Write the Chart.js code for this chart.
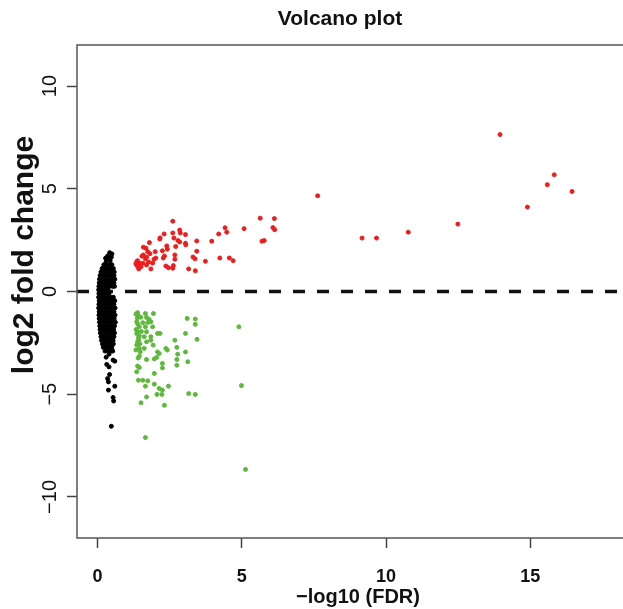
<!DOCTYPE html>
<html>
<head>
<meta charset="utf-8">
<script src="https://cdn.jsdelivr.net/npm/chart.js@4.4.1/dist/chart.umd.min.js"></script>
<style>
  html, body { margin: 0; padding: 0; background: #fff; }
  canvas { display: block; }
</style>
</head>
<body>
<canvas id="volcanoChart" width="623" height="609"></canvas>
<script>
// -log10(FDR), log2FC pairs
const notSig = [
  [0.42,1.89],[0.50,1.83],[0.35,1.73],[0.28,1.62],[0.39,1.62],[0.48,1.67],[0.44,1.50],[0.30,1.45],
  [0.22,1.30],[0.32,1.30],[0.42,1.30],[0.50,1.30],
  [0.16,1.12],[0.27,1.12],[0.37,1.12],[0.47,1.12],[0.55,1.12],
  [0.12,0.95],[0.22,0.95],[0.32,0.95],[0.42,0.95],[0.52,0.95],[0.58,0.95],
  [0.09,0.78],[0.18,0.78],[0.28,0.78],[0.38,0.78],[0.48,0.78],[0.57,0.78],
  [0.07,0.60],[0.14,0.60],[0.24,0.60],[0.34,0.60],[0.44,0.60],[0.54,0.60],[0.60,0.60],
  [0.06,0.42],[0.18,0.42],[0.28,0.42],[0.38,0.42],[0.48,0.42],[0.57,0.42],
  [0.05,0.25],[0.13,0.25],[0.23,0.25],[0.33,0.25],[0.43,0.25],[0.53,0.25],[0.59,0.25],
  [0.04,0.08],[0.16,0.08],[0.26,0.08],[0.36,0.08],
  [0.05,-0.10],[0.12,-0.10],[0.22,-0.10],[0.32,-0.10],[0.40,-0.10],
  [0.04,-0.28],[0.16,-0.28],[0.26,-0.28],[0.36,-0.28],[0.46,-0.28],[0.55,-0.28],
  [0.06,-0.45],[0.12,-0.45],[0.22,-0.45],[0.32,-0.45],[0.42,-0.45],[0.52,-0.45],[0.60,-0.45],
  [0.05,-0.62],[0.17,-0.62],[0.27,-0.62],[0.37,-0.62],[0.47,-0.62],[0.57,-0.62],
  [0.04,-0.80],[0.12,-0.80],[0.22,-0.80],[0.32,-0.80],[0.42,-0.80],[0.52,-0.80],[0.61,-0.80],
  [0.06,-0.98],[0.17,-0.98],[0.27,-0.98],[0.37,-0.98],[0.47,-0.98],[0.57,-0.98],
  [0.05,-1.15],[0.13,-1.15],[0.23,-1.15],[0.33,-1.15],[0.43,-1.15],[0.53,-1.15],[0.61,-1.15],
  [0.06,-1.32],[0.18,-1.32],[0.28,-1.32],[0.38,-1.32],[0.48,-1.32],[0.58,-1.32],
  [0.07,-1.50],[0.14,-1.50],[0.24,-1.50],[0.34,-1.50],[0.44,-1.50],[0.54,-1.50],[0.62,-1.50],
  [0.08,-1.68],[0.19,-1.68],[0.29,-1.68],[0.39,-1.68],[0.49,-1.68],[0.59,-1.68],
  [0.09,-1.85],[0.16,-1.85],[0.26,-1.85],[0.36,-1.85],[0.46,-1.85],[0.56,-1.85],
  [0.10,-2.02],[0.21,-2.02],[0.31,-2.02],[0.41,-2.02],[0.51,-2.02],[0.59,-2.02],
  [0.12,-2.20],[0.20,-2.20],[0.30,-2.20],[0.40,-2.20],[0.50,-2.20],[0.57,-2.20],
  [0.14,-2.38],[0.24,-2.38],[0.34,-2.38],[0.44,-2.38],[0.54,-2.38],
  [0.17,-2.55],[0.27,-2.55],[0.37,-2.55],[0.47,-2.55],[0.55,-2.55],
  [0.20,-2.72],[0.30,-2.72],[0.40,-2.72],[0.50,-2.72],
  [0.26,-2.90],[0.36,-2.90],[0.46,-2.90],[0.53,-2.90],
  [0.40,-3.05],[0.30,-3.20],[0.54,-3.34],[0.60,-3.39],[0.32,-3.55],[0.40,-3.67],
  [0.42,-4.04],[0.35,-4.24],[0.38,-4.40],[0.60,-4.61],[0.38,-4.80],[0.54,-5.16],
  [0.56,-5.33],[0.48,-6.56]
];

const upReg = [
  [5.64,3.57],[6.13,3.55],[6.08,3.11],[6.14,3.01],[5.70,2.45],[5.78,2.48],[5.08,3.06],
  [4.42,3.10],[4.48,2.89],[4.20,2.80],[3.96,2.45],[3.44,2.46],[3.44,1.96],[3.31,1.68],
  [3.38,1.59],[3.74,1.47],[4.24,1.63],[4.57,1.63],[4.70,1.50],[3.16,1.10],[3.39,1.01],
  [2.61,3.42],[2.61,2.85],[2.31,2.80],[2.17,2.61],[2.16,2.55],[2.85,2.99],[2.87,2.85],
  [3.05,2.77],[2.65,2.60],[2.79,2.48],[2.85,2.41],[3.05,2.35],[3.06,2.27],[2.71,2.19],
  [2.40,2.22],[2.42,2.06],[2.25,1.98],[2.32,1.73],[2.28,1.63],[2.68,1.78],[2.68,1.57],
  [2.37,1.24],[2.46,1.16],[2.63,1.26],[2.61,1.13],[1.80,2.38],[1.59,2.16],[1.68,2.11],
  [1.74,1.94],[1.82,1.84],[2.00,1.94],[2.02,1.63],[1.96,1.57],[1.70,1.67],[1.66,1.60],
  [1.59,1.78],[1.54,1.72],[1.39,1.50],[1.45,1.38],[1.36,1.29],[1.51,1.21],[1.43,1.10],
  [1.57,1.38],[1.70,1.29],[1.85,1.10],[1.91,1.38],[1.77,1.44],[1.33,1.35],[1.40,1.20],
  [1.48,1.30],[1.36,1.45],
  [7.63,4.66],[9.17,2.60],[9.67,2.60],[10.77,2.89],[12.49,3.28],[13.95,7.64],
  [14.90,4.11],[15.59,5.20],[15.83,5.68],[16.45,4.87]
];

const downReg = [
  [1.39,-1.03],[1.66,-1.07],[1.94,-1.07],[1.42,-1.20],[1.70,-1.26],[1.79,-1.36],[1.36,-1.47],
  [1.57,-1.52],[1.74,-1.51],[1.85,-1.47],[1.45,-1.72],[1.66,-1.72],[1.91,-1.72],[1.34,-1.85],
  [1.39,-1.96],[1.70,-1.96],[2.08,-2.04],[2.17,-2.04],[1.45,-2.17],[1.62,-2.20],[1.85,-2.20],
  [1.43,-2.37],[1.70,-2.45],[1.85,-2.37],[1.36,-2.61],[1.45,-2.77],[1.62,-2.77],[1.93,-2.61],
  [2.08,-2.94],[2.14,-3.02],[2.37,-2.77],[2.42,-2.85],[1.45,-3.15],[1.41,-3.24],[1.70,-3.31],
  [1.97,-3.28],[2.05,-3.21],[1.48,-2.94],[2.25,-3.50],[2.25,-3.72],[1.39,-3.63],[1.45,-3.70],
  [1.36,-3.91],[1.97,-3.99],[1.42,-4.32],[1.57,-4.32],[1.74,-4.35],[1.66,-4.61],[1.97,-4.51],
  [2.14,-4.72],[2.25,-4.80],[2.06,-5.01],[2.23,-5.01],[2.46,-4.61],[1.70,-5.13],[1.51,-5.42],
  [2.32,-5.54],[1.66,-7.11],[2.68,-2.37],[2.75,-2.72],[2.78,-3.05],[2.75,-3.31],[2.75,-3.59],
  [3.05,-2.04],[3.11,-1.31],[3.39,-1.34],[3.39,-1.60],[3.45,-2.33],[3.05,-2.94],[3.13,-3.42],
  [3.16,-4.97],[3.39,-5.01],[4.90,-1.72],[4.99,-4.58],[5.13,-8.66],
  [1.33,-1.10],[1.38,-1.30],[1.40,-1.60],[1.36,-2.05],[1.42,-2.25],[1.39,-2.45],[1.47,-2.55],
  [1.50,-1.25],[1.52,-1.95],[1.33,-2.85]
];

const xTicks = [0, 5, 10, 15];
const yTicks = [-10, -5, 0, 5, 10];
const xMin = -0.71, xMax = 18.04;
const yMin = -12, yMax = 12;
const fcLine = 0;

const FONT = "'Liberation Sans', Arial, Helvetica, sans-serif";
const toXY = arr => arr.map(p => ({ x: p[0], y: p[1] }));
const minusSign = v => String(v).replace('-', '\u2212');

// frame, main title and axis labels (R-style, plot region runs past the right edge)
const framePlugin = {
    id: 'frame',
    afterDraw(chart) {
        const { ctx, chartArea: a } = chart;
        ctx.save();
        ctx.strokeStyle = '#555';
        ctx.lineWidth = 1.5;
        ctx.beginPath();
        ctx.moveTo(a.right + 5, a.top);
        ctx.lineTo(a.left, a.top);
        ctx.lineTo(a.left, a.bottom);
        ctx.lineTo(a.right + 5, a.bottom);
        ctx.stroke();

        ctx.fillStyle = '#111';
        ctx.textAlign = 'center';
        ctx.textBaseline = 'middle';
        ctx.font = 'bold 21px ' + FONT;
        ctx.fillText('Volcano plot', 340, 19);

        ctx.font = 'bold 20px ' + FONT;
        ctx.fillText('\u2212log10 (FDR)', 358, 597);

        ctx.translate(25, 255);
        ctx.rotate(-Math.PI / 2);
        ctx.font = 'bold 30px ' + FONT;
        ctx.fillText('log2 fold change', 0, 0);
        ctx.restore();
    }
};

const ctx = document.getElementById('volcanoChart');
new Chart(ctx, {
    type: 'scatter',
    data: {
        datasets: [
            {
                data: toXY(notSig),
                backgroundColor: '#000',
                borderColor: '#000',
                pointRadius: 2,
                borderWidth: 1
            },
            {
                data: toXY(upReg),
                backgroundColor: '#ee1c1c',
                borderColor: '#ee1c1c',
                pointRadius: 2,
                borderWidth: 1
            },
            {
                data: toXY(downReg),
                backgroundColor: '#5db83c',
                borderColor: '#5db83c',
                pointRadius: 2,
                borderWidth: 1
            },
            {
                type: 'line',
                data: [{ x: xMin, y: fcLine }, { x: xMax, y: fcLine }],
                borderColor: '#111',
                borderWidth: 3.5,
                borderDash: [12, 12],
                pointRadius: 0,
                fill: false
            }
        ]
    },
    options: {
        responsive: false,
        animation: false,
        devicePixelRatio: 1,
        layout: { padding: { top: 45, right: 0, bottom: 0, left: 0 } },
        plugins: {
            legend: { display: false },
            tooltip: { enabled: false },
            title: { display: false }
        },
        scales: {
            x: {
                type: 'linear',
                min: xMin,
                max: xMax,
                afterBuildTicks: s => { s.ticks = xTicks.map(v => ({ value: v })); },
                afterFit: s => { s.height = 71; },
                grid: { drawOnChartArea: false, drawTicks: true, tickLength: 10, tickWidth: 1.5, tickColor: '#444' },
                border: { display: false },
                ticks: {
                    autoSkip: false,
                    maxRotation: 0,
                    padding: 18,
                    color: '#111',
                    font: { family: FONT, size: 18, weight: 'bold' },
                    callback: v => minusSign(v)
                },
                title: { display: false }
            },
            y: {
                type: 'linear',
                min: yMin,
                max: yMax,
                afterBuildTicks: s => { s.ticks = yTicks.map(v => ({ value: v })); },
                afterFit: s => { s.width = 77; },
                grid: { drawOnChartArea: false, drawTicks: true, tickLength: 10, tickWidth: 1.5, tickColor: '#444' },
                border: { display: false },
                ticks: {
                    autoSkip: false,
                    minRotation: 90,
                    maxRotation: 90,
                    crossAlign: 'center',
                    padding: 0,
                    color: '#111',
                    font: { family: FONT, size: 20 },
                    callback: v => minusSign(v)
                },
                title: { display: false }
            }
        }
    },
    plugins: [framePlugin]
});
</script>
</body>
</html>
